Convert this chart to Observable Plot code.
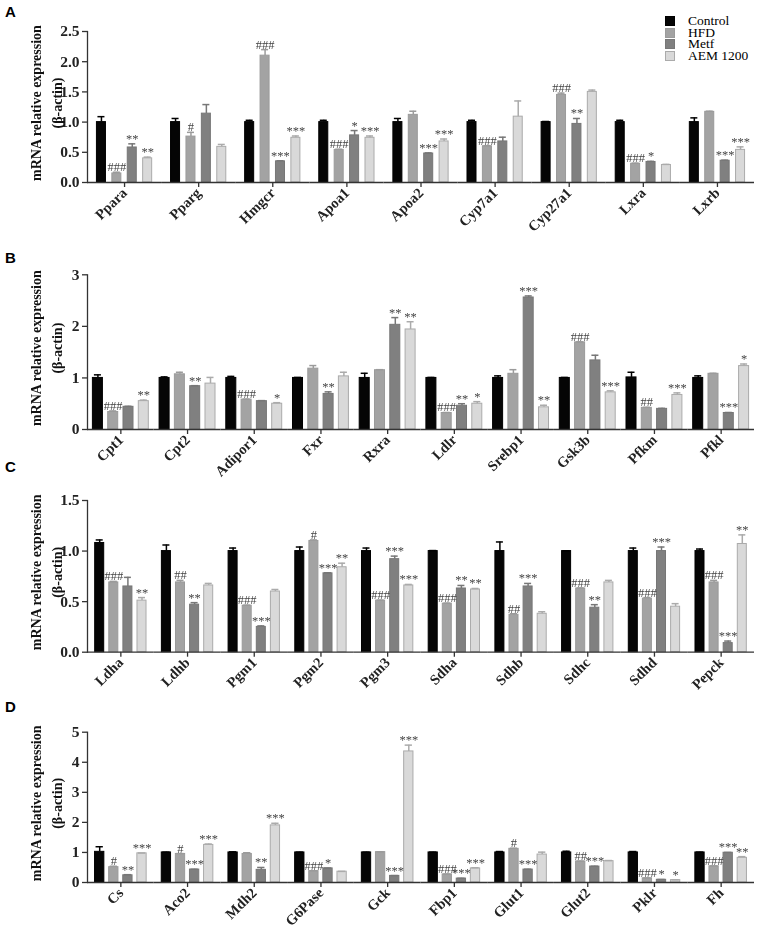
<!DOCTYPE html>
<html><head><meta charset="utf-8">
<script src="https://cdn.jsdelivr.net/npm/d3@7"></script>
<script src="https://cdn.jsdelivr.net/npm/@observablehq/plot@0.6"></script>
<style>
body{margin:0;background:#fff;}
#wrap{position:relative;width:761px;height:937px;background:#fff;overflow:hidden;}
.panel{position:absolute;left:0;filter:grayscale(1);}
.plabel{position:absolute;left:5px;font:bold 15px "Liberation Sans",Arial,sans-serif;line-height:15px;}
#legend{position:absolute;left:665px;top:15px;font:13.5px "Liberation Serif","Times New Roman",serif;}
#legend .row{display:flex;align-items:center;height:11.7px;}
#legend .row .tx{display:block;height:11.7px;line-height:11.7px;overflow:visible;white-space:nowrap;}
#legend .sw{width:10px;height:10px;box-sizing:border-box;margin-right:13px;}
</style></head>
<body><div id="wrap"></div>
<script>
const groups = ["Control", "HFD", "Metf", "AEM 1200"];

// Panel A
const genesA = ["Ppara","Pparg","Hmgcr","Apoa1","Apoa2","Cyp7a1","Cyp27a1","Lxra","Lxrb"];
const meanA = [
  [1.0,1.0,1.0,1.0,1.0,1.0,1.0,1.0,1.0],
  [0.15,0.76,2.10,0.54,1.12,0.60,1.45,0.31,1.17],
  [0.58,1.14,0.35,0.78,0.48,0.68,0.97,0.34,0.36],
  [0.40,0.59,0.74,0.74,0.68,1.09,1.50,0.29,0.54]
];
const errA = [
  [0.09,0.06,0.03,0.03,0.06,0.03,0.01,0.03,0.07],
  [0.02,0.07,0.10,0.01,0.06,0.01,0.03,0.01,0.01],
  [0.06,0.15,0.01,0.08,0.01,0.07,0.09,0.01,0.01],
  [0.02,0.04,0.03,0.03,0.04,0.26,0.03,0.01,0.05]
];
const sigA = [
  ["","","","","","","","",""],
  ["###","#","###","###","","###","###","###",""],
  ["**","","***","*","***","","**","*","***"],
  ["**","","***","***","***","","","","***"]
];

// Panel B
const genesB = ["Cpt1","Cpt2","Adipor1","Fxr","Rxra","Ldlr","Srebp1","Gsk3b","Pfkm","Pfkl"];
const meanB = [
  [1.0,1.0,1.0,1.0,1.0,1.0,1.0,1.0,1.01,1.0],
  [0.34,1.07,0.58,1.18,1.15,0.32,1.08,1.69,0.42,1.08],
  [0.44,0.84,0.55,0.69,2.03,0.46,2.56,1.34,0.40,0.32],
  [0.55,0.89,0.50,1.03,1.94,0.50,0.43,0.72,0.67,1.23]
];
const errB = [
  [0.06,0.02,0.03,0.01,0.09,0.01,0.04,0.01,0.10,0.04],
  [0.02,0.04,0.01,0.06,0.01,0.01,0.08,0.01,0.01,0.01],
  [0.01,0.01,0.01,0.04,0.14,0.04,0.03,0.10,0.01,0.01],
  [0.02,0.12,0.02,0.08,0.15,0.04,0.04,0.03,0.04,0.04]
];
const sigB = [
  ["","","","","","","","","",""],
  ["###","","###","","","###","","###","##",""],
  ["","**","","**","**","**","***","","","***"],
  ["**","","*","","**","*","**","***","***","*"]
];

// Panel C
const genesC = ["Ldha","Ldhb","Pgm1","Pgm2","Pgm3","Sdha","Sdhb","Sdhc","Sdhd","Pepck"];
const meanC = [
  [1.08,1.0,1.0,1.0,1.0,1.0,1.0,1.0,1.0,1.0],
  [0.69,0.69,0.46,1.10,0.51,0.48,0.37,0.63,0.53,0.69],
  [0.65,0.47,0.25,0.78,0.92,0.63,0.65,0.44,1.0,0.09],
  [0.51,0.66,0.60,0.84,0.66,0.62,0.38,0.69,0.45,1.07]
];
const errC = [
  [0.03,0.06,0.03,0.04,0.03,0.005,0.09,0.003,0.03,0.02],
  [0.01,0.02,0.005,0.01,0.005,0.005,0.01,0.005,0.01,0.02],
  [0.09,0.02,0.01,0.005,0.03,0.03,0.03,0.03,0.04,0.02],
  [0.03,0.02,0.02,0.04,0.01,0.01,0.02,0.02,0.03,0.09]
];
const sigC = [
  ["","","","","","","","","",""],
  ["###","##","###","#","###","###","##","###","###","###"],
  ["","**","***","***","***","**","***","**","***","***"],
  ["**","","","**","***","**","","","","**"]
];

// Panel D
const genesD = ["Cs","Aco2","Mdh2","G6Pase","Gck","Fbp1","Glut1","Glut2","Pklr","Fh"];
const meanD = [
  [1.02,1.0,1.0,1.0,1.0,1.0,1.0,1.0,1.0,1.0],
  [0.51,0.95,0.95,0.38,1.01,0.27,1.12,0.70,0.14,0.54],
  [0.24,0.43,0.42,0.47,0.22,0.13,0.43,0.53,0.09,0.99],
  [0.97,1.25,1.90,0.36,4.36,0.47,0.93,0.71,0.08,0.82]
];
const errD = [
  [0.17,0.01,0.02,0.01,0.01,0.01,0.03,0.04,0.03,0.01],
  [0.03,0.01,0.04,0.01,0.01,0.01,0.02,0.01,0.01,0.01],
  [0.02,0.01,0.08,0.01,0.01,0.01,0.01,0.01,0.01,0.01],
  [0.01,0.03,0.07,0.01,0.21,0.02,0.08,0.02,0.01,0.04]
];
const sigD = [
  ["","","","","","","","","",""],
  ["#","#","","###","","###","#","##","###","###"],
  ["**","***","**","*","***","***","***","***","*","***"],
  ["***","***","***","","***","***","","","*","**"]
];

const yLabel = "mRNA relative expression\n(β-actin)";

// styles
const fillOf = {"Control":"#050505","HFD":"#a3a3a3","Metf":"#808080","AEM 1200":"#d9d9d9"};
const strokeOf = {"Control":"#000000","HFD":"#9b9b9b","Metf":"#777777","AEM 1200":"#ababab"};
const serif = "'Liberation Serif','Times New Roman',serif";

function build(genes, means, errs, sigs) {
  const out = [];
  genes.forEach((g, i) => groups.forEach((grp, j) => out.push({
    gene: g, group: grp, value: means[j][i], err: errs[j][i], sig: sigs[j][i]
  })));
  return out;
}

function panel(o) {
  const data = build(o.genes, o.means, o.errs, o.sigs);
  const top = d => d.value + d.err;
  return Plot.plot({
    width: 761, height: o.height,
    marginLeft: 87, marginRight: 7, marginTop: o.mt, marginBottom: o.mb,
    style: {background: "transparent", fontFamily: serif, overflow: "visible", color: "#222"},
    fx: {domain: o.genes, padding: 0, round: false},
    x: {domain: groups, paddingInner: o.pi, paddingOuter: o.po, round: false, axis: null},
    y: {domain: [0, o.yMax], axis: null},
    color: {type: "identity"},
    marks: [
      Plot.barY(data, {fx: "gene", x: "group", y: "value",
        fill: d => fillOf[d.group], stroke: d => strokeOf[d.group], strokeWidth: 1, insetLeft: 0.5, insetRight: 0.5}),
      Plot.ruleX(data, {fx: "gene", x: "group", y1: "value", y2: top,
        stroke: d => strokeOf[d.group], strokeWidth: 1.5}),
      Plot.tickY(data, {fx: "gene", x: "group", y: top,
        stroke: d => strokeOf[d.group], strokeWidth: 1.5, insetLeft: o.cap, insetRight: o.cap}),
      Plot.text(data, {fx: "gene", x: "group", y: top, text: d => d.sig || null,
        lineAnchor: "bottom", dy: -1, fontSize: 12.5, fill: "#444", fontFamily: serif}),
      Plot.ruleY([0], {stroke: "#333", strokeWidth: 1.3}),
      Plot.frame({anchor: "left", facetAnchor: "left", stroke: "#333", strokeWidth: 1.3}),
      Plot.axisY(o.ticks, {tickFormat: o.fmt, tickSize: 5, tickPadding: 3, fontSize: 15.5,
        fontWeight: "bold", label: null, stroke: "#333", strokeWidth: 1.3}),
      Plot.axisFx({anchor: "bottom", tickRotate: -45, tickSize: 5, tickPadding: 3, fontSize: 14.5,
        fontWeight: "bold", label: null, stroke: "#333", strokeWidth: 1.3}),
      Plot.text([yLabel], {frameAnchor: "left", facetAnchor: "left", rotate: -90, dx: -43, dy: -4,
        textAnchor: "middle", lineAnchor: "middle",
        fontSize: 14, fontWeight: "bold", lineHeight: 1.5, fontFamily: serif, fill: "#111"})
    ]
  });
}

const wrap = document.getElementById("wrap");
const specs = [
  {top: 0, height: 245, mt: 31, mb: 63, genes: genesA, means: meanA, errs: errA, sigs: sigA,
   yMax: 2.5, ticks: [0, 0.5, 1, 1.5, 2, 2.5], fmt: d3.format(".1f"), pi: 0.35, po: 0.58, cap: 1.5, letter: "A", ly: 3.5},
  {top: 245, height: 245, mt: 29.3, mb: 61, genes: genesB, means: meanB, errs: errB, sigs: sigB,
   yMax: 3, ticks: [0, 1, 2, 3], fmt: d3.format("d"), pi: 0.28, po: 0.32, cap: 2, letter: "B", ly: 249.5},
  {top: 490, height: 215, mt: 10, mb: 53.3, genes: genesC, means: meanC, errs: errC, sigs: sigC,
   yMax: 1.5, ticks: [0, 0.5, 1, 1.5], fmt: d3.format(".1f"), pi: 0.29, po: 0.51, cap: 1.5, letter: "C", ly: 458.5},
  {top: 705, height: 232, mt: 26.7, mb: 55, genes: genesD, means: meanD, errs: errD, sigs: sigD,
   yMax: 5, ticks: [0, 1, 2, 3, 4, 5], fmt: d3.format("d"), pi: 0.27, po: 0.5, cap: 1.5, letter: "D", ly: 699}
];
for (const s of specs) {
  const svg = panel(s);
  const holder = document.createElement("div");
  holder.className = "panel";
  holder.style.top = s.top + "px";
  holder.appendChild(svg);
  wrap.appendChild(holder);
  const lab = document.createElement("div");
  lab.className = "plabel";
  lab.style.top = s.ly + "px";
  lab.textContent = s.letter;
  wrap.appendChild(lab);
}

// legend
const legend = document.createElement("div");
legend.id = "legend";
groups.forEach(g => {
  const row = document.createElement("div");
  row.className = "row";
  const sw = document.createElement("span");
  sw.className = "sw";
  sw.style.background = fillOf[g];
  sw.style.border = "1px solid " + strokeOf[g];
  const t = document.createElement("span");
  t.className = "tx";
  t.textContent = g;
  row.appendChild(sw); row.appendChild(t);
  legend.appendChild(row);
});
wrap.appendChild(legend);
</script>
</body></html>
